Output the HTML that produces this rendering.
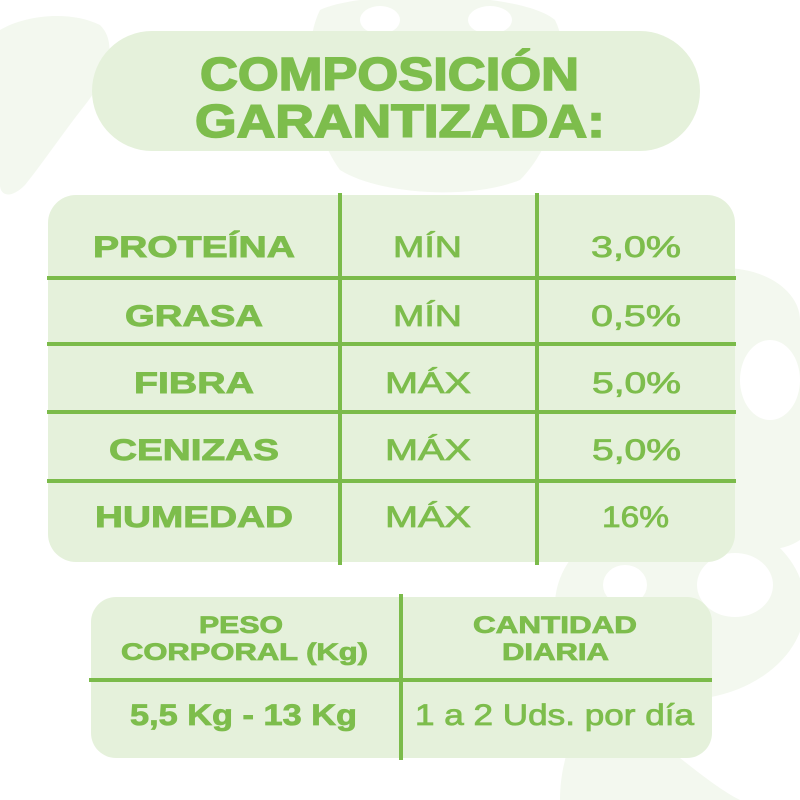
<!DOCTYPE html>
<html>
<head>
<meta charset="utf-8">
<style>
html,body{margin:0;padding:0;background:#ffffff;}
svg{display:block;}
</style>
</head>
<body>
<svg width="800" height="800" viewBox="0 0 800 800" xmlns="http://www.w3.org/2000/svg">
  <rect x="0" y="0" width="800" height="800" fill="#ffffff"/>
  <!-- faint background blobs -->
  <g fill="#f3f8ef">
    <path d="M0,30 C25,15 70,10 100,25 C120,45 105,80 85,105 C65,130 45,160 25,185 C10,200 0,195 0,185 Z"/>
    <path d="M320,10 C360,-10 520,-10 555,20 C575,60 560,140 520,180 C470,200 380,195 340,170 C310,130 300,50 320,10 Z"/>
    <path d="M700,270 C760,260 800,290 800,320 L800,540 C770,560 730,545 715,520 C700,480 705,420 700,380 Z"/>
    <ellipse cx="680" cy="605" rx="125" ry="95"/>
    <path d="M600,700 C640,720 700,780 740,800 L560,800 C560,760 575,720 600,700 Z"/>
  </g>
  <g fill="#ffffff">
    <ellipse cx="380" cy="20" rx="20" ry="14"/>
    <ellipse cx="490" cy="20" rx="22" ry="14"/>
    <ellipse cx="625" cy="585" rx="22" ry="20"/>
    <ellipse cx="735" cy="585" rx="38" ry="32"/>
    <ellipse cx="770" cy="380" rx="30" ry="40"/>
  </g>

  <!-- title pill -->
  <rect x="92" y="31" width="608" height="120" rx="60" ry="60" fill="#e5f1db"/>
  <g fill="#7dbd4c" stroke="#7dbd4c" stroke-width="1.6" font-family="'Liberation Sans', sans-serif" font-weight="bold">
    <text x="200" y="90" font-size="46" textLength="379" lengthAdjust="spacingAndGlyphs">COMPOSICIÓN</text>
    <text x="195" y="137" font-size="46" textLength="410" lengthAdjust="spacingAndGlyphs">GARANTIZADA:</text>
  </g>

  <!-- main table -->
  <rect x="48" y="195" width="687" height="367" rx="28" ry="28" fill="#e5f1db"/>
  <g fill="#7bbb4a">
    <rect x="47" y="276" width="689" height="4"/>
    <rect x="47" y="342" width="689" height="4"/>
    <rect x="47" y="410" width="689" height="4"/>
    <rect x="47" y="479" width="689" height="4"/>
    <rect x="338" y="193" width="4" height="372"/>
    <rect x="535" y="193" width="4" height="372"/>
  </g>
  <g fill="#7dbd4c" font-family="'Liberation Sans', sans-serif" font-size="30">
    <g font-weight="bold" stroke="#7dbd4c" stroke-width="0.9">
      <text x="93" y="257" textLength="202" lengthAdjust="spacingAndGlyphs">PROTEÍNA</text>
      <text x="125" y="326" textLength="138" lengthAdjust="spacingAndGlyphs">GRASA</text>
      <text x="134" y="393" textLength="120" lengthAdjust="spacingAndGlyphs">FIBRA</text>
      <text x="109" y="460" textLength="170" lengthAdjust="spacingAndGlyphs">CENIZAS</text>
      <text x="95" y="527" textLength="198" lengthAdjust="spacingAndGlyphs">HUMEDAD</text>
    </g>
    <g stroke="#7dbd4c" stroke-width="0.8">
      <text x="393" y="257" textLength="69" lengthAdjust="spacingAndGlyphs">MÍN</text>
      <text x="393" y="326" textLength="69" lengthAdjust="spacingAndGlyphs">MÍN</text>
      <text x="385" y="393" textLength="86" lengthAdjust="spacingAndGlyphs">MÁX</text>
      <text x="385" y="460" textLength="86" lengthAdjust="spacingAndGlyphs">MÁX</text>
      <text x="385" y="527" textLength="86" lengthAdjust="spacingAndGlyphs">MÁX</text>
      <text x="591" y="257" textLength="90" lengthAdjust="spacingAndGlyphs">3,0%</text>
      <text x="591" y="326" textLength="90" lengthAdjust="spacingAndGlyphs">0,5%</text>
      <text x="592" y="393" textLength="89" lengthAdjust="spacingAndGlyphs">5,0%</text>
      <text x="592" y="460" textLength="89" lengthAdjust="spacingAndGlyphs">5,0%</text>
      <text x="602" y="527" textLength="67" lengthAdjust="spacingAndGlyphs">16%</text>
    </g>
  </g>

  <!-- bottom table -->
  <rect x="91" y="597" width="621" height="161" rx="25" ry="25" fill="#e5f1db"/>
  <g fill="#7bbb4a">
    <rect x="89" y="678" width="623" height="4"/>
    <rect x="399" y="594" width="4" height="166"/>
  </g>
  <g fill="#7dbd4c" stroke="#7dbd4c" stroke-width="0.8" font-family="'Liberation Sans', sans-serif" font-weight="bold">
    <text x="199" y="633" font-size="24" textLength="84" lengthAdjust="spacingAndGlyphs">PESO</text>
    <text x="121" y="660" font-size="24" textLength="247" lengthAdjust="spacingAndGlyphs">CORPORAL (Kg)</text>
    <text x="473" y="633" font-size="24" textLength="164" lengthAdjust="spacingAndGlyphs">CANTIDAD</text>
    <text x="502" y="660" font-size="24" textLength="107" lengthAdjust="spacingAndGlyphs">DIARIA</text>
    <text x="130" y="725" font-size="30" textLength="227" lengthAdjust="spacingAndGlyphs">5,5 Kg - 13 Kg</text>
  </g>
  <text x="415" y="725" fill="#7dbd4c" stroke="#7dbd4c" stroke-width="0.8" font-family="'Liberation Sans', sans-serif" font-size="30" textLength="279" lengthAdjust="spacingAndGlyphs">1 a 2 Uds. por día</text>
</svg>
</body>
</html>
